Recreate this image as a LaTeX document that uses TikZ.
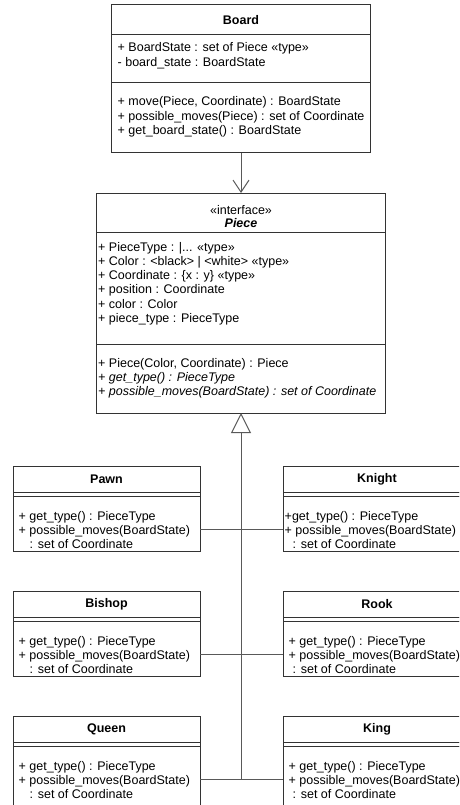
\documentclass[tikz,border=0pt]{standalone}
\usepackage{fontspec}
\setmainfont{Liberation Sans}
\usetikzlibrary{positioning,arrows.meta}
\newcommand\umlsize{\fontsize{12.5}{14.3}\selectfont}

\begin{document}
\begin{tikzpicture}[x=1pt,y=-1pt,
  every node/.style={font=\umlsize},
  classbox/.style={draw=black!80,line width=1pt,inner sep=0pt,outer sep=0pt,anchor=north},
  title/.style={classbox,font=\umlsize\bfseries},
  member/.style={anchor=base west,inner sep=0pt,align=left},
  link/.style={draw=black!65,line width=1pt}]
\useasboundingbox (0,0) rectangle (459,805);
\clip (0,0) rectangle (459,805);

% Board
\node[title,minimum width=259pt,minimum height=30pt] (board) at (241,5) {Board};
\node[classbox,minimum width=259pt,minimum height=48pt,below=0pt of board] (boardattr) {};
\node[classbox,minimum width=259pt,minimum height=70pt,below=0pt of boardattr] (boardops) {};
% member texts hang from the baseline of their last line
\node[member] (boardattrtext) at ([shift={(6,31.3)}]boardattr.north west)
  {+ BoardState : set of Piece «type»\\- board\_state : BoardState};
\node[member] (boardopstext) at ([shift={(6,51.6)}]boardops.north west)
  {+ move(Piece, Coordinate) : BoardState\\+ possible\_moves(Piece) : set of Coordinate\\+ get\_board\_state() : BoardState};

% Piece
\node[classbox,minimum width=289pt,minimum height=39pt,align=center,below=40pt of boardops] (piece)
  {\rule{0pt}{17pt}«interface»\\[-1pt]\textbf{\textit{Piece}}};
\node[classbox,minimum width=289pt,minimum height=112pt,below=0pt of piece] (pieceattr) {};
\node[classbox,minimum width=289pt,minimum height=69pt,below=0pt of pieceattr] (pieceops) {};
\node[member] (pieceattrtext) at ([shift={(1.5,90.5)}]pieceattr.north west)
  {+ PieceType : |... «type»\\+ Color : <black> | <white> «type»\\+ Coordinate : \{x : y\} «type»\\+ position : Coordinate\\+ color : Color\\+ piece\_type : PieceType};
\node[member] (pieceopstext) at ([shift={(1.5,51.6)}]pieceops.north west)
  {+ Piece(Color, Coordinate) : Piece\\\textit{+ get\_type() : PieceType}\\\textit{+ possible\_moves(BoardState) : set of Coordinate}};

% pieces, left column
\node[title,minimum width=187pt,minimum height=26pt] (pawn) at (106.5,466) {Pawn};
\node[classbox,minimum width=187pt,minimum height=4pt,below=0pt of pawn] (pawnattr) {};
\node[classbox,minimum width=187pt,minimum height=55pt,below=0pt of pawnattr] (pawnops) {};
\node[member] (pawntext) at ([shift={(5.5,52.6)}]pawnops.north west)
  {+ get\_type() : PieceType\\+ possible\_moves(BoardState)\\\hspace*{11pt}: set of Coordinate};

\node[title,minimum width=187pt,minimum height=26pt,below=40pt of pawnops] (bishop) {Bishop};
\node[classbox,minimum width=187pt,minimum height=4pt,below=0pt of bishop] (bishopattr) {};
\node[classbox,minimum width=187pt,minimum height=55pt,below=0pt of bishopattr] (bishopops) {};
\node[member] (bishoptext) at ([shift={(5.5,52.6)}]bishopops.north west)
  {+ get\_type() : PieceType\\+ possible\_moves(BoardState)\\\hspace*{11pt}: set of Coordinate};

\node[title,minimum width=187pt,minimum height=26pt,below=40pt of bishopops] (queen) {Queen};
\node[classbox,minimum width=187pt,minimum height=4pt,below=0pt of queen] (queenattr) {};
\node[classbox,minimum width=187pt,minimum height=100pt,below=0pt of queenattr] (queenops) {};
\node[member] (queentext) at ([shift={(5.5,52.6)}]queenops.north west)
  {+ get\_type() : PieceType\\+ possible\_moves(BoardState)\\\hspace*{11pt}: set of Coordinate};

% pieces, right column
\node[title,minimum width=188pt,minimum height=26pt,right=83pt of pawn] (knight) {Knight};
\node[classbox,minimum width=188pt,minimum height=4pt,below=0pt of knight] (knightattr) {};
\node[classbox,minimum width=188pt,minimum height=55pt,below=0pt of knightattr] (knightops) {};
\node[member] (knighttext) at ([shift={(1.5,52.6)}]knightops.north west)
  {+get\_type() : PieceType\\+ possible\_moves(BoardState)\\\hspace*{8pt}: set of Coordinate};

\node[title,minimum width=188pt,minimum height=26pt,right=83pt of bishop] (rook) {Rook};
\node[classbox,minimum width=188pt,minimum height=4pt,below=0pt of rook] (rookattr) {};
\node[classbox,minimum width=188pt,minimum height=55pt,below=0pt of rookattr] (rookops) {};
\node[member] (rooktext) at ([shift={(5.5,52.6)}]rookops.north west)
  {+ get\_type() : PieceType\\+ possible\_moves(BoardState)\\\hspace*{4pt}: set of Coordinate};

\node[title,minimum width=188pt,minimum height=26pt,right=83pt of queen] (king) {King};
\node[classbox,minimum width=188pt,minimum height=4pt,below=0pt of king] (kingattr) {};
\node[classbox,minimum width=188pt,minimum height=100pt,below=0pt of kingattr] (kingops) {};
\node[member] (kingtext) at ([shift={(5.5,52.6)}]kingops.north west)
  {+ get\_type() : PieceType\\+ possible\_moves(BoardState)\\\hspace*{4pt}: set of Coordinate};

% connectors
\draw[link,-{Straight Barb[length=12pt,width=16pt]}] (boardops.south) -- (piece.north);
\coordinate (bus) at ([yshift=-33.5pt]queenops.north east -| pieceops.south);
\draw[link,-{Triangle[open,length=20pt,width=20pt]}] (bus) -- (pieceops.south);
\foreach \cls/\side in {pawn/east,bishop/east,queen/east,knight/west,rook/west,king/west}
  \draw[link] ([yshift=-33.5pt]\cls ops.north \side) -- ([yshift=-33.5pt]\cls ops.north \side -| bus);
\end{tikzpicture}
\end{document}
